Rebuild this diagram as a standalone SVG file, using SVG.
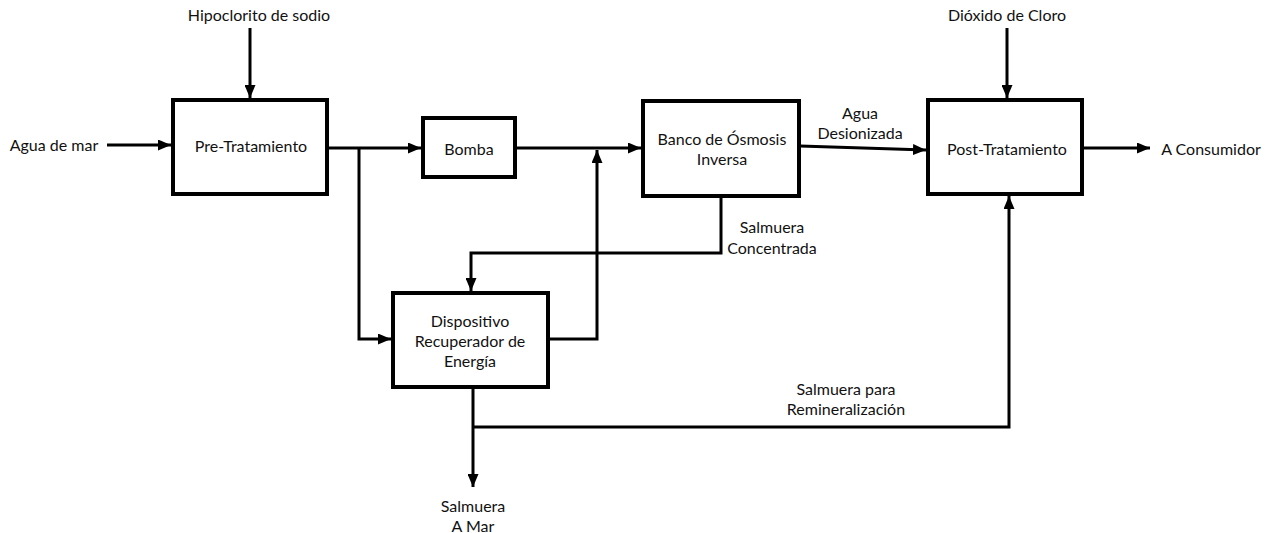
<svg xmlns="http://www.w3.org/2000/svg" width="1274" height="533" viewBox="0 0 1274 533">
<style>
text{font-family:Lato,"Open Sans","Liberation Sans",sans-serif;font-size:16px;fill:#111;text-anchor:middle;dominant-baseline:central}
.box{fill:#fff;stroke:#000;stroke-width:4}
.ln{fill:none;stroke:#000;stroke-width:3}
</style>
<defs>
<marker id="ah" viewBox="0 0 13 11" refX="13" refY="5.5" markerWidth="13" markerHeight="11" markerUnits="userSpaceOnUse" orient="auto">
<path d="M0,0 L13,5.5 L0,11 z" fill="#000"/>
</marker>
</defs>
<rect width="1274" height="533" fill="#fff"/>
<g id="connectors">
<line class="ln" x1="250" y1="28" x2="250" y2="98" marker-end="url(#ah)"/>
<line class="ln" x1="107" y1="145" x2="171" y2="145" marker-end="url(#ah)"/>
<line class="ln" x1="328" y1="148" x2="421" y2="148" marker-end="url(#ah)"/>
<polyline class="ln" points="359,148 359,339 391,339" marker-end="url(#ah)"/>
<line class="ln" x1="516" y1="148" x2="641" y2="148" marker-end="url(#ah)"/>
<polyline class="ln" points="549,339 597,339 597,150" marker-end="url(#ah)"/>
<polyline class="ln" points="721,197 721,253 471,253 471,291" marker-end="url(#ah)"/>
<line class="ln" x1="800" y1="146" x2="926" y2="150" marker-end="url(#ah)"/>
<line class="ln" x1="1007" y1="28" x2="1007" y2="98" marker-end="url(#ah)"/>
<line class="ln" x1="1083" y1="148" x2="1150" y2="148" marker-end="url(#ah)"/>
<line class="ln" x1="473" y1="388" x2="473" y2="487" marker-end="url(#ah)"/>
<polyline class="ln" points="473,427 1009,427 1009,196" marker-end="url(#ah)"/>
</g>
<g id="pre">
<rect class="box" x="173" y="100" width="154" height="94"/>
<text x="251" y="145">Pre-Tratamiento</text>
</g>
<g id="bomba">
<rect class="box" x="423" y="118" width="92" height="59"/>
<text x="469" y="148">Bomba</text>
</g>
<g id="banco">
<rect class="box" x="643" y="101" width="156" height="95"/>
<text x="722" y="138">Banco de Ósmosis</text>
<text x="722" y="158">Inversa</text>
</g>
<g id="post">
<rect class="box" x="928" y="100" width="154" height="94"/>
<text x="1007" y="148">Post-Tratamiento</text>
</g>
<g id="dispositivo">
<rect class="box" x="393" y="293" width="155" height="94"/>
<text x="470" y="320">Dispositivo</text>
<text x="470" y="340">Recuperador de</text>
<text x="470" y="360">Energía</text>
</g>
<g id="labels">
<text x="259" y="14">Hipoclorito de sodio</text>
<text x="54" y="144">Agua de mar</text>
<text x="1007" y="14">Dióxido de Cloro</text>
<text x="1211" y="148">A Consumidor</text>
<text x="860" y="112">Agua</text>
<text x="860" y="132">Desionizada</text>
<text x="772" y="226">Salmuera</text>
<text x="772" y="247">Concentrada</text>
<text x="846" y="388">Salmuera para</text>
<text x="846" y="408">Remineralización</text>
<text x="473" y="505">Salmuera</text>
<text x="473" y="525">A Mar</text>
</g>
</svg>
